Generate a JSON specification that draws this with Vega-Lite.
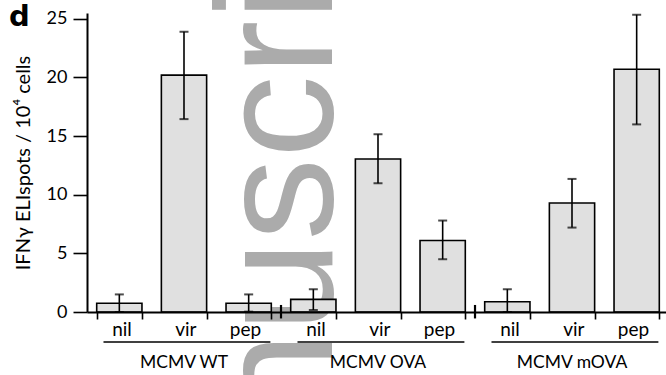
{
  "$schema": "https://vega.github.io/schema/vega-lite/v6.json",
  "autosize": "none",
  "width": 582,
  "height": 299,
  "padding": {"left": 87, "top": 13, "right": 0, "bottom": 63},
  "background": "white",
  "config": {"view": {"stroke": null}, "font": "Lato"},
  "datasets": {
    "bars": [
      {"key": "MCMV WT|nil", "mean": 0.75, "lo": 0.0, "hi": 1.5},
      {"key": "MCMV WT|vir", "mean": 20.2, "lo": 16.45, "hi": 23.9},
      {"key": "MCMV WT|pep", "mean": 0.74, "lo": 0.03, "hi": 1.5},
      {"key": "MCMV OVA|nil", "mean": 1.08, "lo": 0.17, "hi": 1.94},
      {"key": "MCMV OVA|vir", "mean": 13.05, "lo": 10.98, "hi": 15.16},
      {"key": "MCMV OVA|pep", "mean": 6.1, "lo": 4.5, "hi": 7.8},
      {"key": "MCMV mOVA|nil", "mean": 0.88, "lo": 0.0, "hi": 1.94},
      {"key": "MCMV mOVA|vir", "mean": 9.3, "lo": 7.2, "hi": 11.35},
      {"key": "MCMV mOVA|pep", "mean": 20.7, "lo": 16.0, "hi": 25.35}
    ],
    "groups": [
      {"group": "MCMV WT", "first": "MCMV WT|nil", "mid": "MCMV WT|vir", "last": "MCMV WT|pep"},
      {"group": "MCMV OVA", "first": "MCMV OVA|nil", "mid": "MCMV OVA|vir", "last": "MCMV OVA|pep"},
      {"group": "MCMV mOVA", "first": "MCMV mOVA|nil", "mid": "MCMV mOVA|vir", "last": "MCMV mOVA|pep"}
    ],
    "seps": [{"key": "MCMV OVA|nil"}, {"key": "MCMV mOVA|nil"}]
  },
  "layer": [
    {
      "data": {"values": [{}]},
      "mark": {"type": "text", "angle": 270, "fontSize": 165, "font": "Liberation Sans", "color": "#ababab", "align": "center", "baseline": "alphabetic"},
      "encoding": {
        "x": {"datum": "MCMV OVA|nil", "type": "nominal", "bandPosition": 0.91, "scale": {"domain": ["MCMV WT|nil","MCMV WT|vir","MCMV WT|pep","MCMV OVA|nil","MCMV OVA|vir","MCMV OVA|pep","MCMV mOVA|nil","MCMV mOVA|vir","MCMV mOVA|pep"], "paddingInner": 0.3, "paddingOuter": 0.15}},
        "y": {"datum": 5.3, "type": "quantitative", "scale": {"domain": [0, 25.5], "nice": false}},
        "text": {"value": "Manuscript"}
      }
    },
    {
      "data": {"name": "bars"},
      "mark": {"type": "bar", "fill": "#e0e0e0", "stroke": "black", "strokeWidth": 1.6},
      "encoding": {
        "x": {"field": "key", "type": "nominal",
          "scale": {"domain": ["MCMV WT|nil","MCMV WT|vir","MCMV WT|pep","MCMV OVA|nil","MCMV OVA|vir","MCMV OVA|pep","MCMV mOVA|nil","MCMV mOVA|vir","MCMV mOVA|pep"], "paddingInner": 0.3, "paddingOuter": 0.15},
          "axis": {"title": null, "labelExpr": "split(datum.label, '|')[1]", "labelAngle": 0, "tickBand": "extent", "tickSize": 7, "tickWidth": 1.6, "tickColor": "black", "domainColor": "black", "domainWidth": 2, "labelFontSize": 19, "labelColor": "black", "labelBaseline": "alphabetic", "labelPadding": 16, "labelOffset": 12, "zindex": 1}},
        "y": {"field": "mean", "type": "quantitative", "scale": {"domain": [0, 25.5], "nice": false},
          "axis": {"values": [0, 5, 10, 15, 20, 25], "title": "IFNγ ELIspots / 10⁴ cells", "grid": false, "domainColor": "black", "domainWidth": 2, "tickColor": "black", "tickWidth": 1.6, "tickSize": 14, "labelPadding": 6, "labelFontSize": 18, "labelColor": "black", "titleFontSize": 20, "titleFontWeight": "normal", "titleColor": "black", "titlePadding": 13, "zindex": 1}}
      }
    },
    {
      "data": {"name": "bars"},
      "mark": {"type": "rule", "strokeWidth": 1.6, "color": "black"},
      "encoding": {
        "x": {"field": "key", "type": "nominal"},
        "y": {"field": "lo", "type": "quantitative"},
        "y2": {"field": "hi"}
      }
    },
    {
      "data": {"name": "bars"},
      "mark": {"type": "tick", "size": 9, "thickness": 2, "color": "black", "orient": "horizontal"},
      "encoding": {
        "x": {"field": "key", "type": "nominal"},
        "y": {"field": "lo", "type": "quantitative"}
      }
    },
    {
      "data": {"name": "bars"},
      "mark": {"type": "tick", "size": 9, "thickness": 2, "color": "black", "orient": "horizontal"},
      "encoding": {
        "x": {"field": "key", "type": "nominal"},
        "y": {"field": "hi", "type": "quantitative"}
      }
    },
    {
      "data": {"name": "groups"},
      "mark": {"type": "rule", "strokeWidth": 1.4, "color": "black"},
      "encoding": {
        "x": {"field": "first", "type": "nominal", "bandPosition": 0.15},
        "x2": {"field": "last", "bandPosition": 0.98},
        "y": {"datum": -2.56, "type": "quantitative"}
      }
    },
    {
      "data": {"name": "groups"},
      "mark": {"type": "text", "fontSize": 17.5, "baseline": "alphabetic", "color": "black"},
      "encoding": {
        "x": {"field": "mid", "type": "nominal"},
        "y": {"datum": -4.78, "type": "quantitative"},
        "text": {"field": "group"}
      }
    },
    {
      "data": {"name": "seps"},
      "mark": {"type": "rule", "strokeWidth": 2.2, "color": "black"},
      "encoding": {
        "x": {"field": "key", "type": "nominal", "bandPosition": -0.214},
        "y": {"datum": -0.55, "type": "quantitative"},
        "y2": {"datum": 0.6}
      }
    },
    {
      "data": {"values": [{"label": "d"}]},
      "mark": {"type": "text", "fontSize": 29, "fontWeight": "bold", "font": "DejaVu Sans", "align": "left", "baseline": "alphabetic", "color": "black"},
      "encoding": {
        "x": {"datum": "MCMV WT|nil", "type": "nominal", "bandPosition": -1.94},
        "y": {"datum": 24.4, "type": "quantitative"},
        "text": {"field": "label"}
      }
    }
  ]
}
